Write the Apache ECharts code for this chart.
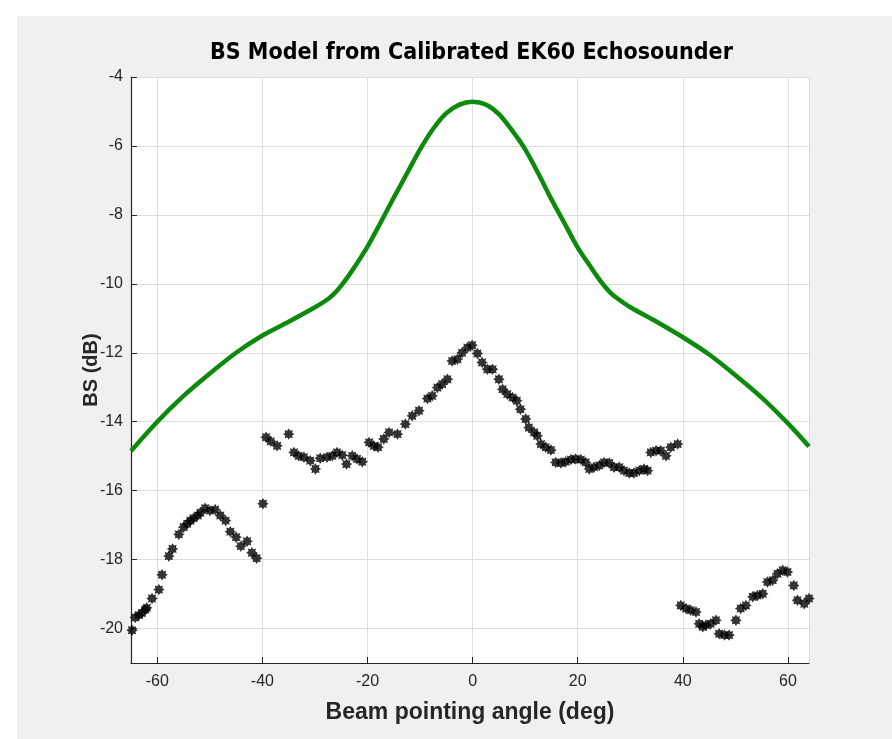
<!DOCTYPE html>
<html>
<head>
<meta charset="utf-8">
<title>BS Model from Calibrated EK60 Echosounder</title>
<script src="https://cdn.jsdelivr.net/npm/echarts@6/dist/echarts.min.js"></script>
<style>
  html, body { margin: 0; padding: 0; background: #ffffff; }
  #chart { width: 892px; height: 739px; }
</style>
</head>
<body>
<div id="chart"></div>
<script>
// Modelled backscatter curve (deg, dB)
const modelAngle = [-65, -60, -55, -50, -45, -40, -35, -30, -27.5, -26.25, -25, -23.75, -22.5, -20, -17.5, -15, -12.5, -10, -7.5, -5, -2.5, 0,
                    2.5, 5, 7.5, 10, 12.5, 15, 17.5, 20, 22.5, 23.75, 25, 26.25, 27.5, 30, 35, 40, 45, 50, 55, 60, 64];
const modelBS = [-14.85, -14.0, -13.25, -12.6, -12.0, -11.5, -11.1, -10.68, -10.44, -10.27, -10.05, -9.8, -9.52, -8.92, -8.22, -7.5, -6.8, -6.1, -5.5, -5.05, -4.8, -4.72,
                 -4.8, -5.08, -5.55, -6.1, -6.8, -7.55, -8.25, -8.95, -9.52, -9.8, -10.05, -10.26, -10.42, -10.68, -11.1, -11.55, -12.05, -12.65, -13.3, -14.05, -14.72];

// Measured backscatter from the calibrated EK60 (deg, dB)
const measAngle = [
  -64.8, -64.2, -63.5, -62.9, -62.3, -62.0, -61.0, -59.7, -59.1, -57.8, -57.1, -55.9, -55.0, -54.3, -53.7, -53.1, -52.3, -51.8,
  -50.9, -50.0, -49.0, -48.0, -47.0, -46.1, -45.0, -44.1, -42.9, -42.0, -41.1, -39.9,
  -39.3, -38.4, -37.2, -35.0, -34.0, -33.1, -32.1, -30.9, -29.9, -29.0, -27.7, -26.7, -25.8, -24.8, -24.0, -22.9, -22.0, -21.0,
  -19.7, -18.8, -18.0, -16.9, -15.9, -14.3, -12.8, -11.5, -10.2, -8.6, -7.7, -6.7, -5.8, -4.8, -3.9, -2.9, -2.0, -1.0, -0.1,
  0.9, 1.8, 2.8, 3.8, 5.0, 5.7, 6.6, 7.6, 8.4, 9.1, 10.1, 10.7, 11.7, 12.3, 13.0, 13.9, 14.9, 15.8, 16.8, 17.7, 18.7, 19.6,
  20.6, 21.5, 22.2, 23.1, 24.1, 25.0, 26.0, 26.9, 27.9, 28.8, 29.8, 30.7, 31.7, 32.6, 33.3, 33.9, 34.9, 35.8, 36.8, 37.7, 39.0,
  39.6, 40.6, 41.5, 42.5, 43.1, 43.8, 44.4, 45.3, 46.3, 46.9, 47.9, 48.8, 50.1, 51.0, 52.0, 53.3, 54.2, 55.2, 56.1, 57.1,
  58.0, 59.0, 59.9, 61.1, 61.8, 63.1, 64.0
];
const measBS = [
  -20.05, -19.68, -19.61, -19.55, -19.45, -19.40, -19.13, -18.87, -18.44, -17.90, -17.69, -17.27, -17.06, -16.96, -16.87, -16.80, -16.72, -16.64,
  -16.51, -16.58, -16.55, -16.72, -16.87, -17.19, -17.35, -17.61, -17.47, -17.80, -17.96, -16.38,
  -14.45, -14.57, -14.70, -14.36, -14.89, -14.99, -15.03, -15.13, -15.37, -15.06, -15.03, -14.99, -14.89, -14.97, -15.23, -14.99, -15.08, -15.16,
  -14.60, -14.70, -14.74, -14.50, -14.31, -14.36, -14.07, -13.83, -13.68, -13.33, -13.25, -13.01, -12.91, -12.77, -12.24, -12.19, -12.00, -11.85, -11.78,
  -12.02, -12.28, -12.48, -12.48, -12.77, -13.06, -13.20, -13.30, -13.39, -13.64, -13.92, -14.17, -14.31, -14.41, -14.65, -14.74, -14.82, -15.18, -15.20, -15.16, -15.10, -15.08,
  -15.10, -15.18, -15.37, -15.32, -15.27, -15.18, -15.20, -15.32, -15.32, -15.42, -15.49, -15.49, -15.42, -15.37, -15.42, -14.89, -14.84, -14.84, -14.99, -14.74, -14.65,
  -19.33, -19.42, -19.47, -19.52, -19.86, -19.95, -19.90, -19.86, -19.76, -20.15, -20.19, -20.19, -19.76, -19.42, -19.33, -19.08, -19.04, -18.99, -18.65, -18.60,
  -18.41, -18.31, -18.36, -18.75, -19.18, -19.28, -19.13
];

const xTicks = [-60, -40, -20, 0, 20, 40, 60];
const yTicks = [-20, -18, -16, -14, -12, -10, -8, -6, -4];

const modelData = modelAngle.map((a, i) => [a, modelBS[i]]);
const measData = measAngle.map((a, i) => [a, measBS[i]]);

// chunky eight-pointed star marker
const starPath = 'path://M50,0 L62.5,20 L85.4,14.6 L80,37.5 L100,50 L80,62.5 L85.4,85.4 L62.5,80 L50,100 L37.5,80 L14.6,85.4 L20,62.5 L0,50 L20,37.5 L14.6,14.6 L37.5,20 Z';

const axisInk = '#262626';
const chart = echarts.init(document.getElementById('chart'), null, { renderer: 'canvas' });

chart.setOption({
  backgroundColor: '#ffffff',
  animation: false,
  graphic: [{
    type: 'rect', z: -10, silent: true,
    shape: { x: 17, y: 16, width: 892 - 17, height: 739 - 16 },
    style: { fill: '#f0f0f0' }
  }],
  title: {
    text: 'BS Model from Calibrated EK60 Echosounder',
    left: 205,
    top: 37,
    textStyle: { fontFamily: 'DejaVu Sans Condensed, DejaVu Sans', fontWeight: 'bold', fontSize: 23, color: '#000000' }
  },
  grid: {
    left: 131, right: 83, top: 77, bottom: 76,
    show: true, backgroundColor: '#ffffff', borderWidth: 0
  },
  xAxis: {
    type: 'value', min: -65, max: 64, minInterval: 20, maxInterval: 20,
    name: 'Beam pointing angle (deg)', nameLocation: 'middle', nameGap: 38, nameMoveOverlap: false,
    nameTextStyle: { fontFamily: 'Liberation Sans', fontWeight: 'bold', fontSize: 23, color: axisInk },
    axisLine: { show: true, onZero: false, lineStyle: { color: axisInk, width: 1.2 } },
    axisTick: { show: true, inside: true, length: 6, lineStyle: { color: axisInk } },
    axisLabel: {
      showMinLabel: false, showMaxLabel: false, margin: 11,
      fontFamily: 'Liberation Sans', fontSize: 16, color: axisInk,
      formatter: v => (xTicks.includes(v) ? String(v) : '')
    },
    splitLine: { show: true, lineStyle: { color: '#dedede', width: 1 } }
  },
  yAxis: {
    type: 'value', min: -21, max: -4, minInterval: 2, maxInterval: 2,
    name: 'BS (dB)', nameLocation: 'middle', nameGap: 30, nameRotate: 90, nameMoveOverlap: false,
    nameTextStyle: { fontFamily: 'Liberation Sans', fontWeight: 'bold', fontSize: 20, color: axisInk },
    axisLine: { show: true, onZero: false, lineStyle: { color: axisInk, width: 1.2 } },
    axisTick: { show: true, inside: true, length: 6, lineStyle: { color: axisInk } },
    axisLabel: {
      showMinLabel: false, margin: 8,
      fontFamily: 'Liberation Sans', fontSize: 16, color: axisInk,
      formatter: v => (yTicks.includes(v) ? String(v) : '')
    },
    splitLine: { show: true, lineStyle: { color: '#dedede', width: 1 } }
  },
  series: [
    {
      name: 'Model', type: 'line', data: modelData, smooth: 0.3,
      showSymbol: false, clip: true,
      lineStyle: { color: '#0b8a0b', width: 4.5 }, z: 3
    },
    {
      name: 'EK60', type: 'scatter', data: measData,
      symbol: starPath, symbolSize: 11.5,
      itemStyle: { color: '#000000' }, z: 4
    }
  ]
});
</script>
</body>
</html>
